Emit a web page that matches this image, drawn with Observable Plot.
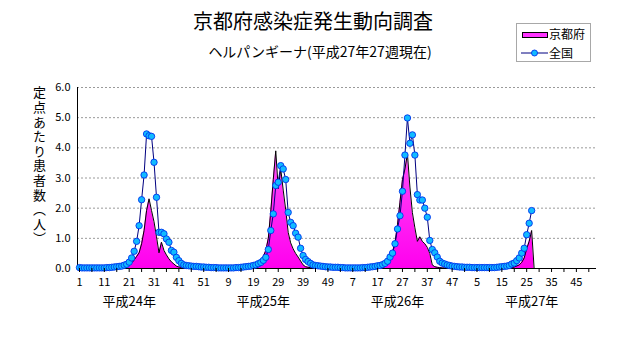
<!DOCTYPE html>
<html><head><meta charset="utf-8">
<script src="https://cdn.jsdelivr.net/npm/d3@7"></script>
<script src="https://cdn.jsdelivr.net/npm/@observablehq/plot@0.6"></script>
<style>
body{margin:0;background:#fff;}
#wrap{position:relative;width:631px;height:347px;font-family:"Noto Sans CJK JP",sans-serif;color:#000;}
#wrap svg.plot{position:absolute;left:0;top:0;}
#title{position:absolute;left:0;width:626px;top:9px;text-align:center;font-size:20px;line-height:24px;white-space:nowrap;}
#subtitle{position:absolute;left:0;width:640px;top:43px;text-align:center;font-size:14px;line-height:16px;white-space:nowrap;}
#ylabel{position:absolute;left:31px;top:86px;writing-mode:vertical-rl;font-size:13px;line-height:16px;letter-spacing:1.6px;white-space:nowrap;}
#legend{position:absolute;left:516px;top:23px;width:73px;height:37px;border:1px solid #a8a8a8;background:#fff;}
#legend .sw{position:absolute;left:5px;top:8px;width:24px;height:4px;background:#ff33ff;border:1px solid #000;}
#legend .t{position:absolute;left:32px;font-size:12px;line-height:14px;white-space:nowrap;}
#legend svg{position:absolute;left:4px;top:24px;}
</style></head>
<body>
<div id="wrap">
  <div id="title">京都府感染症発生動向調査</div>
  <div id="subtitle">ヘルパンギーナ(平成27年27週現在)</div>
  <div id="ylabel">定点あたり患者数（人）</div>
  <div id="legend">
    <div class="sw"></div><div class="t" style="top:3px">京都府</div>
    <svg width="28" height="10"><line x1="0" y1="5" x2="27" y2="5" stroke="#000080" stroke-width="1"/><circle cx="13.5" cy="5" r="3" fill="#11bbff" stroke="#0033ee" stroke-width="0.9"/></svg>
    <div class="t" style="top:22px">全国</div>
  </div>
</div>
<script>
// ---- data (weekly values, per sentinel site) ----
const yearLabels = ["平成24年", "平成25年", "平成26年", "平成27年"];
const yTicks = [0, 1, 2, 3, 4, 5, 6];
const xTickLabels = ["1","11","21","31","41","51","9","19","29","39","49","7","17","27","37","47","5","15","25","35","45"];

const national2012 = [0.03,0.02,0.02,0.02,0.02,0.02,0.02,0.02,0.02,0.02,
  0.02,0.03,0.03,0.04,0.05,0.06,0.07,0.08,0.11,0.14,
  0.21,0.35,0.57,0.9,1.42,2.28,3.1,4.46,4.4,4.38,
  3.52,2.36,1.2,1.2,1.15,0.98,0.87,0.6,0.54,0.37,
  0.26,0.17,0.12,0.1,0.09,0.08,0.07,0.07,0.06,0.05,
  0.05,0.04];
const national2013 = [0.04,0.03,0.03,0.03,0.02,0.02,0.02,0.02,0.02,0.02,
  0.02,0.03,0.03,0.04,0.05,0.06,0.07,0.08,0.1,0.12,
  0.16,0.2,0.27,0.37,0.63,1.26,1.81,2.75,2.86,3.41,
  3.3,2.95,1.86,1.53,1.42,1.17,1.04,0.67,0.43,0.3,
  0.23,0.17,0.12,0.1,0.09,0.08,0.07,0.06,0.05,0.05,
  0.04,0.04];
const national2014 = [0.04,0.03,0.03,0.02,0.02,0.02,0.02,0.02,0.02,0.02,
  0.03,0.03,0.04,0.05,0.06,0.07,0.09,0.1,0.13,0.17,
  0.24,0.38,0.51,0.82,1.31,1.75,2.56,3.76,4.99,4.15,
  4.43,3.76,2.45,2.27,2.27,2.0,1.7,0.93,0.63,0.52,
  0.38,0.24,0.18,0.15,0.12,0.1,0.08,0.07,0.06,0.05,
  0.05,0.04];
const national2015 = [0.04,0.04,0.03,0.03,0.03,0.03,0.03,0.03,0.03,0.03,
  0.03,0.03,0.04,0.05,0.06,0.07,0.08,0.1,0.15,0.18,
  0.26,0.35,0.51,0.67,1.12,1.5,1.92];

const kyoto2012 = [0,0,0,0,0,0,0,0,0,0,
  0,0,0,0,0,0,0.01,0.02,0.03,0.05,
  0.1,0.18,0.28,0.4,0.52,0.82,1.26,1.92,2.31,1.92,
  1.55,1.05,0.52,0.87,0.6,0.45,0.32,0.22,0.15,0.08,
  0.05,0.04,0.03,0.02,0.02,0.02,0.01,0.01,0.01,0,
  0,0];
const kyoto2013 = [0.02,0.01,0.01,0,0,0,0,0,0,0,
  0,0,0,0,0.01,0.01,0.02,0.03,0.05,0.1,
  0.15,0.25,0.4,0.6,1.0,1.9,2.95,3.9,2.65,3.3,
  2.6,1.95,1.2,0.85,0.65,0.5,0.38,0.25,0.12,0.06,
  0.04,0.03,0.02,0.02,0.02,0.01,0.01,0.01,0.01,0.01,
  0.01,0.01];
const kyoto2014 = [0.01,0.01,0,0,0,0,0,0,0,0,
  0,0,0,0.01,0.01,0.02,0.03,0.05,0.08,0.12,
  0.2,0.35,0.55,0.85,1.45,2.2,2.95,3.3,3.8,2.7,
  1.85,1.35,0.9,1.05,0.9,0.82,0.7,0.5,0.12,0.06,
  0.04,0.03,0.02,0.02,0.01,0.01,0.01,0.01,0.01,0.01,
  0.01,0.01];
const kyoto2015 = [0,0,0,0,0,0,0,0,0,0,
  0,0,0,0,0,0,0.01,0.02,0.03,0.05,
  0.08,0.12,0.2,0.35,0.65,0.9,1.26,0];

// ---- build rows: continuous week index across the four years ----
const weeksPerYear = 52;
function rows(years) {
  const out = [];
  years.forEach((arr, y) => arr.forEach((v, w) => out.push({i: y * weeksPerYear + w, v})));
  return out;
}
const nationalRows = rows([national2012, national2013, national2014, national2015]);
const kyotoRows = rows([kyoto2012, kyoto2013, kyoto2014, kyoto2015]);

const xDomain = [-0.8, 208.1];
const tickIdx = d3.range(0, 206, 5);
const labelFor = i => (i % 10 === 0 ? xTickLabels[i / 10] : "");

const chart = Plot.plot({
  width: 631, height: 347,
  marginLeft: 77, marginRight: 35, marginTop: 87, marginBottom: 79,
  style: {fontFamily: "'Noto Sans CJK JP', sans-serif", fontSize: "11px", background: "transparent", color: "#000"},
  x: {type: "linear", domain: xDomain, axis: null, label: null},
  y: {domain: [0, 6], axis: null, label: null},
  marks: [
    Plot.gridY(yTicks.filter(d => d > 0), {stroke: "#9a9a9a", strokeOpacity: 1, strokeDasharray: "2,2"}),
    Plot.areaY(kyotoRows, {x: "i", y: "v", fill: "url(#kgrad)", curve: "linear"}),
    Plot.lineY(kyotoRows, {x: "i", y: "v", stroke: "#000", strokeWidth: 1}),
    Plot.ruleY([0], {stroke: "#000"}),
    Plot.ruleX([xDomain[0]], {stroke: "#000"}),
    Plot.lineY(nationalRows, {x: "i", y: "v", stroke: "#000080", strokeWidth: 1}),
    Plot.dot(nationalRows, {x: "i", y: "v", r: 3.2, fill: "#11bbff", stroke: "#0033ee", strokeWidth: 0.9}),
    Plot.axisY(yTicks, {tickSize: 0, tickPadding: 7, tickFormat: d => d.toFixed(1), fontSize: 11, label: null}),
    Plot.axisX(tickIdx, {tickSize: 4, tickPadding: 6, tickFormat: labelFor, fontSize: 11, label: null}),
    Plot.text(yearLabels, {x: (d, k) => 20 + 54 * k, frameAnchor: "bottom", dy: 37, text: d => d, fontSize: 13})
  ]
});
chart.classList.add("plot");
const defs = d3.select(chart).insert("defs", ":first-child");
const g = defs.append("linearGradient").attr("id", "kgrad").attr("gradientUnits", "userSpaceOnUse")
  .attr("x1", 0).attr("x2", 0).attr("y1", 87).attr("y2", 268);
g.append("stop").attr("offset", "0%").attr("stop-color", "#ff77ff");
g.append("stop").attr("offset", "100%").attr("stop-color", "#ff00ee");
document.getElementById("wrap").prepend(chart);
</script>
</body></html>
